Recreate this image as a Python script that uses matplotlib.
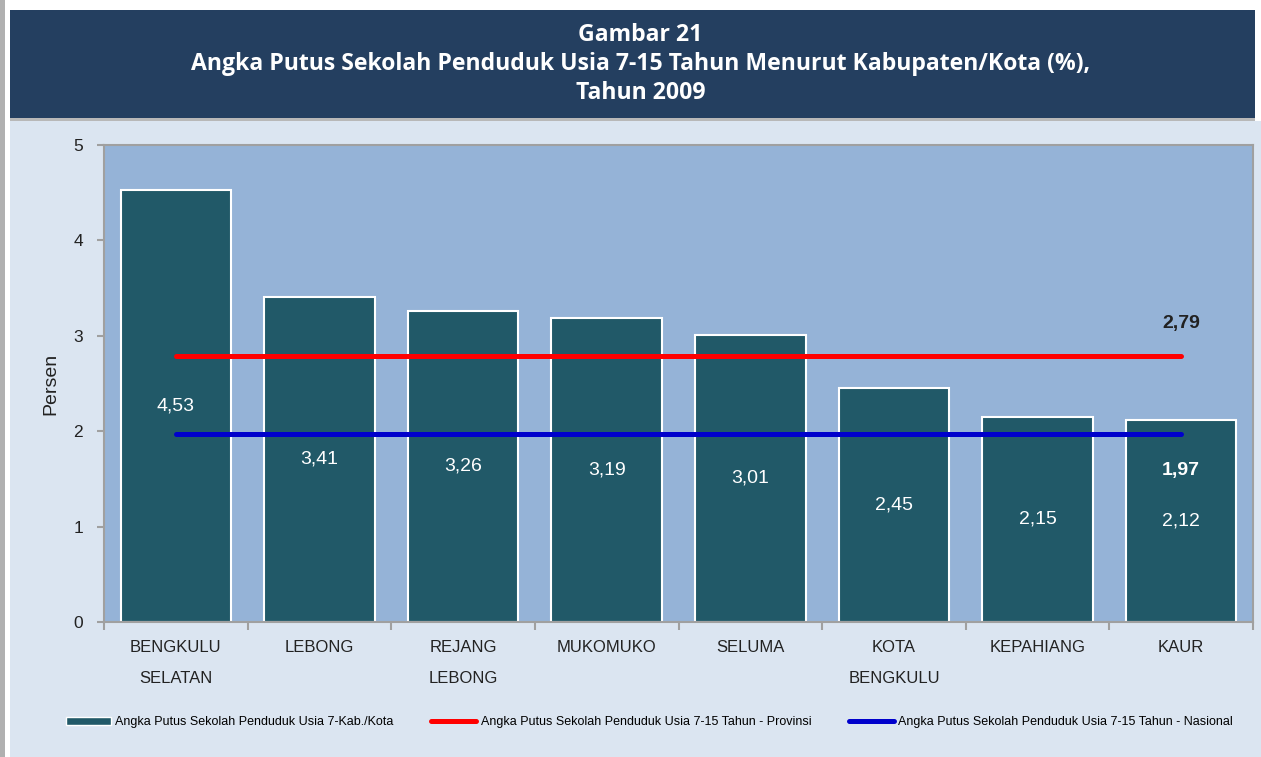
import numpy as np
import matplotlib
matplotlib.use("Agg")
import matplotlib.pyplot as plt
from matplotlib.patches import Rectangle, Patch
from matplotlib.lines import Line2D

categories = ["BENGKULU\nSELATAN", "LEBONG", "REJANG\nLEBONG", "MUKOMUKO",
              "SELUMA", "KOTA\nBENGKULU", "KEPAHIANG", "KAUR"]
values = [4.53, 3.41, 3.26, 3.19, 3.01, 2.45, 2.15, 2.12]
provinsi = 2.79
nasional = 1.97

legend_labels = ["Angka Putus Sekolah Penduduk Usia 7-Kab./Kota",
                 "Angka Putus Sekolah Penduduk Usia 7-15 Tahun - Provinsi",
                 "Angka Putus Sekolah Penduduk Usia 7-15 Tahun - Nasional"]

NAVY = "#243F60"
PANEL = "#DBE5F1"
PLOT_BG = "#95B3D7"
BAR = "#215968"
SPINE = "#A0A0A0"

plt.rcParams['font.family'] = ['Liberation Sans', 'DejaVu Sans']

fig = plt.figure(figsize=(12.61, 7.57), dpi=100)
fig.patch.set_facecolor("white")

# background frame
fig.add_artist(Rectangle((0, 0), 0.004, 1, transform=fig.transFigure,
                         facecolor="#B0B0B0", edgecolor="none", zorder=0))
fig.add_artist(Rectangle((0.0079, 0), 0.9921, 1 - 121 / 757, transform=fig.transFigure,
                         facecolor=PANEL, edgecolor="none", zorder=0))
fig.add_artist(Rectangle((0.0079, 1 - 121 / 757), 0.987, 3 / 757, transform=fig.transFigure,
                         facecolor="#B8B8B8", edgecolor="none", zorder=0))
fig.add_artist(Rectangle((0.0079, 1 - 118 / 757), 0.987, 108 / 757, transform=fig.transFigure,
                         facecolor=NAVY, edgecolor="none", zorder=0))

title_lines = ["Gambar 21",
               "Angka Putus Sekolah Penduduk Usia 7-15 Tahun Menurut Kabupaten/Kota (%),",
               "Tahun 2009"]
for i, line in enumerate(title_lines):
    fig.text(0.508, 1 - (35 + 29 * i) / 757, line, ha="center", va="center",
             color="white", fontsize=16.6, fontweight="bold",
             family=['Open Sans', 'DejaVu Sans'])

ax = fig.add_axes([104 / 1261, 1 - 622 / 757, (1253 - 104) / 1261, (622 - 145) / 757])
ax.set_facecolor(PLOT_BG)

x = np.arange(len(categories))
ax.bar(x, values, width=0.77, color=BAR, edgecolor="white", linewidth=1.5, zorder=2)

for xi, v in zip(x, values):
    ax.text(xi, v / 2, f"{v:.2f}".replace(".", ","), ha="center", va="center",
            color="white", fontsize=14, zorder=4)

ax.plot([x[0], x[-1]], [provinsi, provinsi], color="#FF0000", linewidth=3.6,
        solid_capstyle="round", zorder=3)
ax.plot([x[0], x[-1]], [nasional, nasional], color="#0000CC", linewidth=3.6,
        solid_capstyle="round", zorder=3)
ax.text(x[-1], provinsi + 0.34, f"{provinsi:.2f}".replace(".", ","), ha="center",
        va="center", fontsize=14, fontweight="bold", color="#222222", zorder=4)
ax.text(x[-1], nasional - 0.38, f"{nasional:.2f}".replace(".", ","), ha="center",
        va="center", fontsize=14, fontweight="bold", color="white", zorder=4)

ax.set_xlim(-0.5, len(categories) - 0.5)
ax.set_ylim(0, 5)
ax.set_yticks(range(0, 6))
ax.set_xticks(x)
ax.set_xticklabels(categories, fontsize=12, linespacing=2.3, color="#222222")
ax.set_xticks(np.arange(-0.5, len(categories), 1), minor=True)
ax.tick_params(axis="x", which="major", length=0, pad=13)
ax.tick_params(axis="x", which="minor", length=6, color=SPINE, width=1.5)
ax.tick_params(axis="y", length=5, color=SPINE, width=1.5, pad=10,
               labelsize=12.5, labelcolor="#222222")
for s in ax.spines.values():
    s.set_color(SPINE)
    s.set_linewidth(1.5)
ax.set_ylabel("Persen", fontsize=14, color="#222222", labelpad=10)

handles = [Patch(facecolor=BAR, edgecolor="white", linewidth=1),
           Line2D([], [], color="#FF0000", linewidth=3.6, solid_capstyle="round"),
           Line2D([], [], color="#0000CC", linewidth=3.6, solid_capstyle="round")]
fig.legend(handles, legend_labels, loc="center", bbox_to_anchor=(0.515, 1 - 722 / 757),
           ncol=3, frameon=False, handlelength=3.6, handleheight=0.6,
           handletextpad=0.35, columnspacing=3.0,
           prop={"family": ['Liberation Sans Narrow', 'Liberation Sans'], "size": 9})

fig.savefig("out.png", dpi=100, facecolor=fig.get_facecolor())
